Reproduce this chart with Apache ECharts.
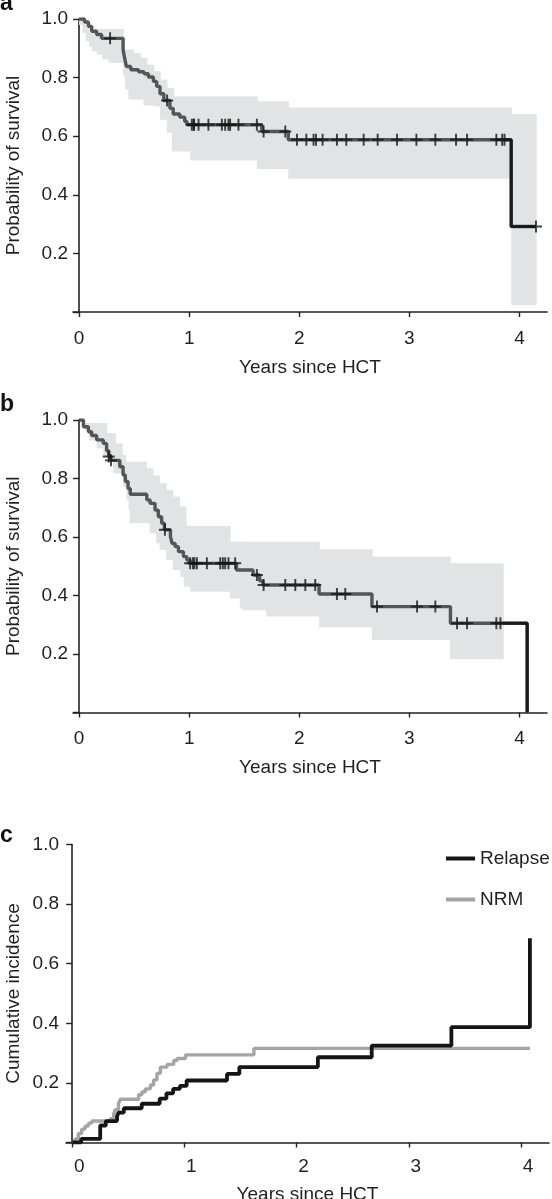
<!DOCTYPE html>
<html><head><meta charset="utf-8">
<script src="https://cdn.jsdelivr.net/npm/echarts@6/dist/echarts.min.js"></script>
<style>html,body{margin:0;padding:0;background:#fff}#c{width:552px;height:1199px}</style>
</head><body><div id="c"></div>
<script>
// ---------- Panel a: overall survival ----------
const kmA_t = [0,0.05,0.085,0.115,0.16,0.205,0.40,0.41,0.42,0.43,0.47,0.54,0.59,0.63,0.675,0.705,0.735,0.77,0.825,0.855,0.915,0.96,0.98,1.66,1.90,3.925,4.15];
const kmA_s = [1.0,0.99,0.975,0.958,0.947,0.934,0.895,0.875,0.855,0.838,0.827,0.82,0.813,0.802,0.787,0.77,0.745,0.722,0.695,0.676,0.665,0.65,0.639,0.616,0.588,0.292,0.292];
const censorA = [0.282,0.80,1.024,1.04,1.045,1.085,1.175,1.297,1.327,1.357,1.372,1.448,1.615,1.676,1.873,1.979,2.064,2.13,2.152,2.212,2.342,2.427,2.585,2.712,2.888,3.064,3.236,3.424,3.524,3.79,3.843,3.864,4.15];
const bandA_t  = [0,0.03,0.06,0.09,0.12,0.16,0.21,0.27,0.40,0.418,0.448,0.494,0.555,0.585,0.615,0.676,0.736,0.797,0.842,0.857,1.009,1.615,1.90,3.925,4.15];
const bandA_up = [1.0,0.99,0.98,0.97,0.966,0.966,0.966,0.966,0.896,0.896,0.896,0.884,0.867,0.867,0.844,0.822,0.793,0.765,0.765,0.736,0.736,0.719,0.698,0.676,0.676];
const bandA_lo = [0.98,0.953,0.924,0.905,0.89,0.879,0.862,0.85,0.804,0.76,0.725,0.725,0.725,0.705,0.705,0.702,0.656,0.612,0.548,0.548,0.517,0.488,0.455,0.024,0.024];
const tailStartA = 3.864;

// ---------- Panel b: survival ----------
const kmB_t = [0,0.04,0.085,0.115,0.16,0.22,0.25,0.27,0.29,0.37,0.40,0.42,0.445,0.465,0.615,0.645,0.69,0.72,0.75,0.775,0.83,0.845,0.873,0.903,0.948,0.979,1.009,1.43,1.58,1.64,1.67,2.18,2.66,3.373,4.07];
const kmB_s = [1.0,0.977,0.96,0.947,0.932,0.92,0.895,0.875,0.862,0.84,0.812,0.79,0.766,0.746,0.727,0.715,0.692,0.669,0.647,0.625,0.601,0.578,0.567,0.55,0.533,0.521,0.51,0.487,0.47,0.45,0.436,0.405,0.362,0.305,0.0];
const censorB = [0.27,0.29,0.78,1.009,1.034,1.048,1.07,1.161,1.282,1.306,1.327,1.357,1.418,1.615,1.676,1.873,1.964,2.055,2.145,2.342,2.418,2.706,3.07,3.236,3.433,3.524,3.79,3.827];
const bandB_t  = [0,0.05,0.09,0.16,0.22,0.25,0.31,0.33,0.39,0.40,0.42,0.43,0.45,0.46,0.61,0.64,0.67,0.70,0.73,0.79,0.85,0.91,0.92,0.95,0.97,1.01,1.37,1.46,1.49,1.70,2.18,2.66,3.37,3.85];
const bandB_up = [0.99,0.99,0.99,0.99,0.99,0.955,0.955,0.92,0.88,0.88,0.857,0.857,0.857,0.857,0.835,0.835,0.81,0.81,0.784,0.76,0.738,0.704,0.704,0.704,0.638,0.638,0.584,0.584,0.584,0.584,0.558,0.533,0.51,0.51];
const bandB_lo = [0.99,0.966,0.93,0.903,0.875,0.857,0.818,0.818,0.818,0.772,0.772,0.727,0.692,0.647,0.647,0.613,0.613,0.578,0.556,0.521,0.487,0.487,0.464,0.43,0.43,0.413,0.39,0.356,0.35,0.328,0.291,0.248,0.182,0.182];
const tailStartB = 3.85;

// ---------- Panel c: cumulative incidence ----------
const relapse_t = [0,0.08,0.25,0.30,0.40,0.413,0.46,0.62,0.78,0.84,0.90,0.96,1.02,1.38,1.49,2.19,2.67,3.38,4.08,4.08];
const relapse_v = [0,0.012,0.057,0.072,0.088,0.10,0.115,0.13,0.147,0.165,0.18,0.19,0.208,0.23,0.253,0.286,0.325,0.387,0.387,0.685];
const nrm_t = [0,0.025,0.055,0.085,0.115,0.145,0.175,0.34,0.37,0.383,0.413,0.428,0.592,0.622,0.652,0.697,0.726,0.756,0.786,0.846,0.905,0.935,1.01,1.62,4.08];
const nrm_v = [0,0.012,0.03,0.045,0.055,0.065,0.072,0.08,0.095,0.11,0.13,0.145,0.16,0.17,0.18,0.193,0.21,0.232,0.253,0.262,0.275,0.282,0.294,0.316,0.316];

const xTicks = [0,1,2,3,4];
const yTicks = [0.2,0.4,0.6,0.8,1.0];
const xName = 'Years since HCT';
const seriesNames = ['Relapse','NRM'];

// ---------- helpers ----------
const FONT = '"Liberation Sans", Arial, Helvetica, sans-serif';
const TXT = '#231f20';
const BAND = '#e2e3e5';
const KMCOL = '#555555';
const zip = (a,b)=>a.map((v,i)=>[v,b[i]]);
function stepAt(ts, vs, t){ let v = vs[0]; for(let i=0;i<ts.length;i++){ if(ts[i] <= t+1e-9) v = vs[i]; else break; } return v; }
function tail(ts, vs, t0){ const out=[[t0, stepAt(ts,vs,t0)]]; ts.forEach((t,i)=>{ if(t>t0) out.push([t,vs[i]]); }); return out; }
function bandData(ts, up, lo){ const d=[]; for(let i=0;i<ts.length-1;i++) d.push([ts[i], ts[i+1], lo[i], up[i]]); return d; }
function bandRender(params, api){
  const p0 = api.coord([api.value(0), api.value(3)]);
  const p1 = api.coord([api.value(1), api.value(2)]);
  return {type:'rect', shape:{x:p0[0], y:p0[1], width:p1[0]-p0[0]+0.7, height:p1[1]-p0[1]}, style:{fill:BAND}};
}
const CROSS = 'path://M0,4.2H10V5.8H0Z M4.2,0H5.8V10H4.2Z';

function xAx(gi, nameGap, labMargin, labPad){
  return {gridIndex:gi, type:'value', min:-0.055, max:4.25,
    axisLine:{onZero:false, lineStyle:{color:'#222', width:1.6}},
    axisTick:{customValues:xTicks, length:5, lineStyle:{color:'#222', width:1.4}},
    axisLabel:{customValues:xTicks, color:TXT, fontSize:19, fontFamily:FONT, margin:labMargin, padding:labPad},
    splitLine:{show:false},
    name:xName, nameLocation:'middle', nameGap:nameGap, nameMoveOverlap:false,
    nameTextStyle:{color:TXT, fontSize:19, fontFamily:FONT}};
}
function yAx(gi, name, nameGap, labMargin){
  return {gridIndex:gi, type:'value', min:0, max:1, interval:0.2,
    axisLine:{onZero:true, lineStyle:{color:'#222', width:1.6}},
    axisTick:{length:6, lineStyle:{color:'#222', width:1.4}},
    axisLabel:{color:TXT, fontSize:19, fontFamily:FONT, margin:labMargin, formatter:v=> v===0 ? '' : v.toFixed(1)},
    splitLine:{show:false},
    name:name, nameLocation:'middle', nameGap:nameGap, nameMoveOverlap:false,
    nameTextStyle:{color:TXT, fontSize:19, fontFamily:FONT}};
}
function kmSeries(gi, ts, vs, censor, band, t0){
  return [
    {type:'custom', xAxisIndex:gi, yAxisIndex:gi, renderItem:bandRender, data:band, encode:{x:[0,1], y:[2,3]}, z:1, silent:true},
    {type:'line', xAxisIndex:gi, yAxisIndex:gi, step:'end', data:zip(ts,vs), showSymbol:false, lineStyle:{color:KMCOL, width:3.4}, z:2},
    {type:'line', xAxisIndex:gi, yAxisIndex:gi, step:'end', data:tail(ts,vs,t0), showSymbol:false, lineStyle:{color:'#1a1a1a', width:3}, z:3},
    {type:'scatter', xAxisIndex:gi, yAxisIndex:gi, symbol:CROSS, symbolSize:12, data:censor.map(t=>[t, stepAt(ts,vs,t)]), itemStyle:{color:'#151515'}, z:4}
  ];
}

const chart = echarts.init(document.getElementById('c'), null, {renderer:'canvas'});
chart.setOption({
  animation:false,
  backgroundColor:'#fff',
  grid:[
    {left:73, top:19, width:474, height:293, containLabel:false, outerBoundsMode:'none'},
    {left:73, top:420, width:474, height:292.5, containLabel:false, outerBoundsMode:'none'},
    {left:66, top:844.5, width:483, height:298, containLabel:false, outerBoundsMode:'none'}
  ],
  xAxis:[ xAx(0,46,17,0), xAx(1,46,17,0), xAx(2,43,15,[0,0,0,14]) ],
  yAxis:[ yAx(0,'Probability of survival',50,5), yAx(1,'Probability of survival',50,5), yAx(2,'Cumulative incidence',43,7) ],
  legend:{data:seriesNames, orient:'vertical', left:446, top:849, padding:0, itemWidth:29, itemHeight:4, itemGap:22, icon:'rect',
    textStyle:{color:TXT, fontSize:19, fontFamily:FONT}},
  graphic:[
    {type:'text', left:0, top:-8, style:{text:'a', font:'bold 23px '+FONT, fill:'#111'}},
    {type:'text', left:0, top:393, style:{text:'b', font:'bold 23px '+FONT, fill:'#111'}},
    {type:'text', left:0, top:824, style:{text:'c', font:'bold 23px '+FONT, fill:'#111'}}
  ],
  series:[
    ...kmSeries(0, kmA_t, kmA_s, censorA, bandData(bandA_t,bandA_up,bandA_lo), tailStartA),
    ...kmSeries(1, kmB_t, kmB_s, censorB, bandData(bandB_t,bandB_up,bandB_lo), tailStartB),
    {name:seriesNames[1], type:'line', xAxisIndex:2, yAxisIndex:2, step:'end', data:zip(nrm_t,nrm_v), showSymbol:false, color:'#a5a5a5', lineStyle:{color:'#a5a5a5', width:3.4}, z:2},
    {name:seriesNames[0], type:'line', xAxisIndex:2, yAxisIndex:2, step:'end', data:zip(relapse_t,relapse_v), showSymbol:false, color:'#151515', lineStyle:{color:'#151515', width:3.8}, z:3}
  ]
});
</script></body></html>
